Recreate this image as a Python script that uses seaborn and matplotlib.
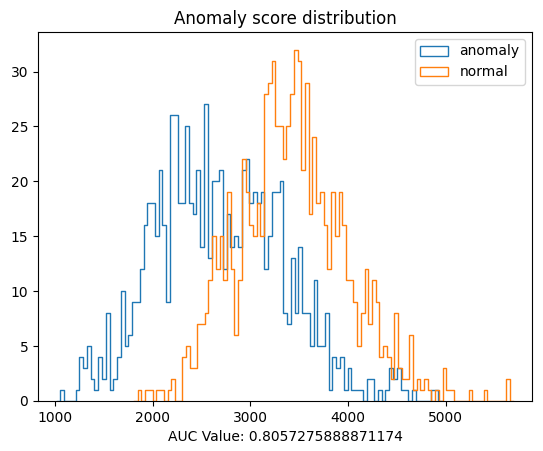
import numpy as np
import pandas as pd
import matplotlib.pyplot as plt
import seaborn as sns
from matplotlib.patches import Patch

# score range covered by each histogram (100 bins each)
anomaly_range = (1054, 4925)
normal_range = (1846, 5655)

anomaly_counts = [1, 0, 0, 0, 1, 4, 3, 5, 2, 1,
                  4, 2, 8, 1, 2, 4, 10, 5, 6, 9,
                  9, 12, 16, 18, 18, 15, 21, 16, 9, 26,
                  26, 18, 18, 25, 18, 17, 21, 14, 27, 13,
                  20, 20, 21, 12, 17, 14, 15, 14, 21, 22,
                  18, 19, 18, 19, 12, 15, 19, 19, 20, 8,
                  7, 13, 8, 14, 8, 8, 5, 11, 5, 5,
                  8, 1, 4, 3, 4, 1, 3, 1, 1, 1,
                  0, 2, 2, 0, 1, 0, 1, 3, 2, 3,
                  1, 1, 0, 1, 0, 0, 0, 0, 1, 1]

normal_counts = [1, 0, 1, 1, 0, 1, 1, 0, 1, 2,
                 0, 0, 4, 5, 3, 3, 7, 7, 8, 11,
                 15, 12, 15, 11, 19, 12, 6, 11, 22, 19,
                 16, 15, 18, 15, 28, 29, 31, 25, 25, 22,
                 25, 28, 32, 31, 21, 29, 17, 24, 18, 19,
                 16, 12, 19, 15, 19, 16, 11, 11, 9, 5,
                 8, 12, 7, 11, 9, 4, 5, 4, 2, 8,
                 3, 2, 2, 6, 1, 2, 1, 2, 1, 0,
                 1, 0, 3, 1, 1, 0, 0, 0, 0, 1,
                 0, 0, 0, 1, 0, 0, 0, 0, 0, 2]

labels = ['anomaly', 'normal']
auc = 0.8057275888871174


def binned(rng, counts):
    edges = np.linspace(rng[0], rng[1], len(counts) + 1)
    w = edges[1] - edges[0]
    # one empty bin on each side so the step outline drops to zero at the ends
    edges = np.concatenate([[edges[0] - w], edges, [edges[-1] + w]])
    heights = np.concatenate([[0], counts, [0]])
    centers = (edges[:-1] + edges[1:]) / 2
    return edges, pd.DataFrame({'score': centers, 'count': heights})


fig = plt.figure(figsize=(5.43, 4.51), dpi=100)
ax = fig.add_axes([38 / 543, 50 / 451, 494 / 543, 369 / 451])

colors = ['C0', 'C1']
for rng, counts, color in zip([anomaly_range, normal_range],
                              [anomaly_counts, normal_counts], colors):
    edges, df = binned(rng, counts)
    sns.histplot(data=df, x='score', weights='count', bins=list(edges),
                 element='step', fill=False, color=color, linewidth=1, ax=ax)

lo = min(anomaly_range[0], normal_range[0])
hi = max(anomaly_range[1], normal_range[1])
ax.set_xlim(lo - 0.05 * (hi - lo), hi + 0.05 * (hi - lo))
top = max(max(anomaly_counts), max(normal_counts))
ax.set_ylim(0, top * 1.05)

ax.set_ylabel('')
ax.set_title('Anomaly score distribution')
ax.set_xlabel(f'AUC Value: {auc}')

handles = [Patch(facecolor='none', edgecolor=c, label=l) for c, l in zip(colors, labels)]
ax.legend(handles=handles, loc='upper right')

plt.savefig('out.png', dpi=100)
